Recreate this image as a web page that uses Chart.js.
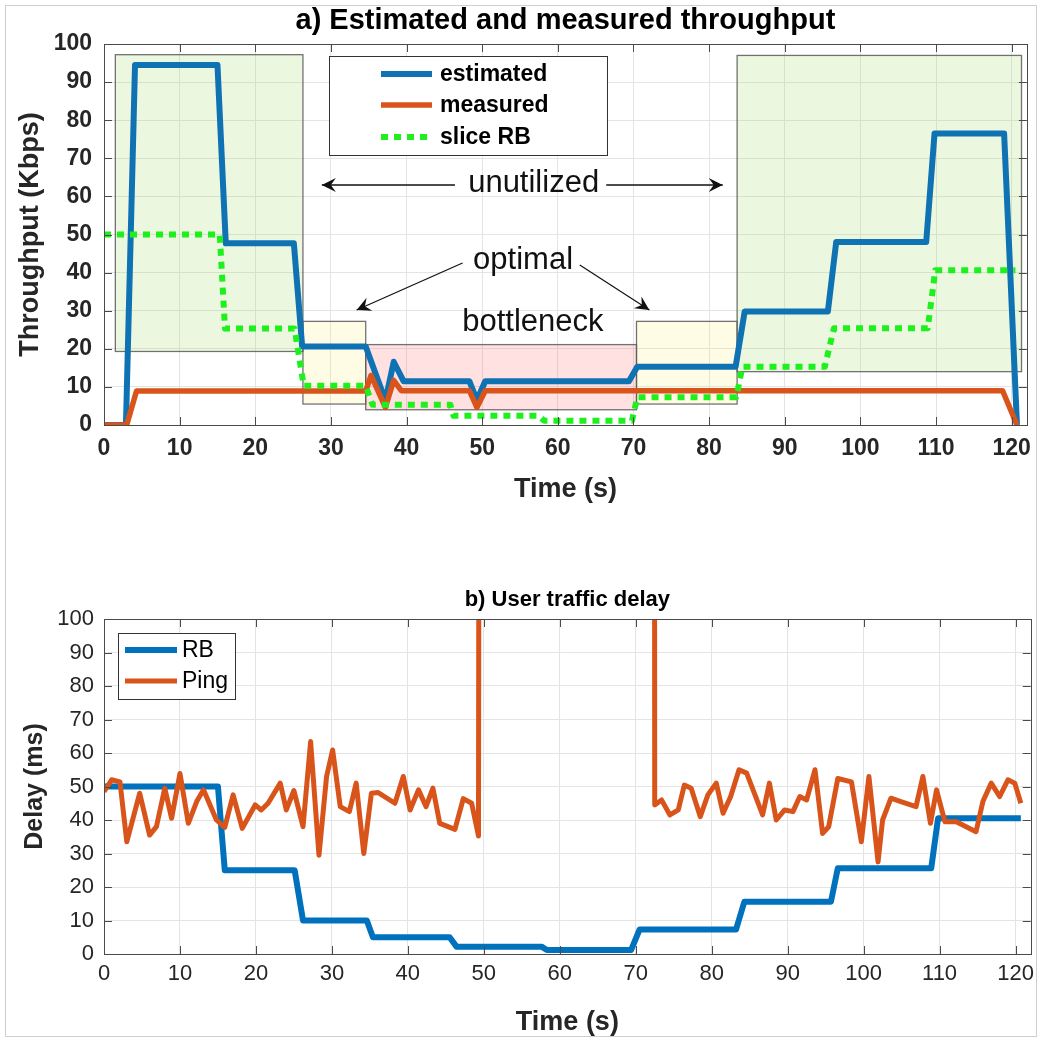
<!DOCTYPE html>
<html><head><meta charset="utf-8">
<script src="https://cdn.jsdelivr.net/npm/chart.js@4.4.1/dist/chart.umd.min.js"></script>
<style>
html,body{margin:0;padding:0;background:#fff;}
#wrap{position:relative;width:1041px;height:1041px;overflow:hidden;background:#fff;}
#frame{position:absolute;left:5px;top:5px;width:1032px;height:1032px;border:1px solid #cfcfcf;box-sizing:border-box;}
#c1{position:absolute;left:0;top:0;}
#c2{position:absolute;left:0;top:560px;}
</style></head><body>
<div id="wrap"><div id="frame"></div>
<canvas id="c1" width="1041" height="520"></canvas>
<canvas id="c2" width="1041" height="481"></canvas>
</div>
<script>
// ---------- data: a) throughput ----------
const xTicks = [0,10,20,30,40,50,60,70,80,90,100,110,120];
const yTicks = [0,10,20,30,40,50,60,70,80,90,100];
const estT  = [0,2.9,4.1,15.0,16.1,25.1,26.2,34.6,37.2,38.3,39.6,48.3,49.3,50.4,69.4,70.5,83.5,84.7,95.7,96.8,108.7,109.8,119.0,120.7];
const estV  = [0,0,94.5,94.5,47.7,47.7,20.6,20.6,6.4,16.6,11.5,11.5,6.5,11.5,11.5,15.3,15.3,29.8,29.8,48.0,48.0,76.5,76.5,0];
const measT = [0,3.0,4.3,34.6,35.3,37.2,38.3,39.3,48.3,49.3,50.4,118.8,120.7];
const measV = [0,0,8.9,8.9,13,4.6,11.7,9,9,4.6,9,9,0];
const sliceT = [0,15.3,16.0,25.2,26.4,34.6,35.5,45.8,46.2,57.5,58.2,69.8,70.5,83.6,84.4,95.3,96.5,108.9,109.9,120.5];
const sliceV = [50,50,25.3,25.3,10.3,10.3,5.3,5.3,2.4,2.4,1.1,1.1,7.3,7.3,15.3,15.3,25.4,25.4,40.6,40.6];
// shaded regions (time span and throughput span)
const regionKind = ['unutilized','optimal','bottleneck','optimal','unutilized'];
const regionT0 = [1.5, 26.3, 34.6, 70.4, 83.7];
const regionT1 = [26.3, 34.6, 70.4, 83.7, 121.3];
const regionV0 = [19.3, 5.5, 4.0, 5.5, 14.0];
const regionV1 = [97.2, 27.2, 21.1, 27.2, 97.0];
// ---------- data: b) delay ----------
const delayTicks = [0,10,20,30,40,50,60,70,80,90,100];
const rbT = [0,15.0,15.9,25.1,26.2,34.6,35.4,45.5,46.4,57.6,58.3,69.4,70.5,83.2,84.3,95.7,96.6,108.9,109.8,120.7];
const rbV = [50,50,25,25,10,10,5,5,2.2,2.2,1.2,1.2,7.3,7.3,15.6,15.6,25.6,25.6,40.5,40.5];
const pingT = [0,1.0,2.1,3.0,4.7,6.0,6.9,8.0,8.9,10.0,11.1,12.2,13.1,14.8,15.9,17.0,18.2,19.9,20.7,21.6,23.2,24.0,25.0,26.2,27.2,28.3,29.3,30.1,31.1,32.3,33.2,34.2,35.2,36.1,38.3,39.4,40.3,41.4,42.4,43.3,44.2,46.2,47.3,48.4,49.3,49.5,61,72.4,72.5,73.4,74.5,75.6,76.4,77.3,78.5,79.5,80.6,81.5,82.5,83.6,84.6,85.7,86.7,87.6,88.5,89.6,90.7,91.6,92.5,93.6,94.6,95.4,96.6,98.4,99.7,100.7,101.9,102.5,103.6,104.9,106.9,107.8,108.8,109.6,110.7,112.2,114.8,115.7,116.8,117.9,119.0,119.9,120.7];
const pingV = [48.5,52,51.4,33.5,48,35.5,38,49.5,40.5,53.9,39,45.5,49,40,37.8,47.5,37.5,44.5,43,45,51,43,48.8,38,63.4,29.5,53,60.9,44,42.5,51,30,48,48.2,45,53,43,49,44,49.5,39,37.2,46.4,45,35.2,400,null,400,44.5,46,41.5,43,50.4,49.5,41,47.5,51,42,47,55,54,47.5,41.5,51,40,43,42.5,47,46,55,36,38,52.4,51.4,33.5,53,27.5,40,46.5,45.5,44,53,39,49,39.5,39.5,36.5,45.5,51,47,52,51,45];

const pts = (t, v) => t.map((x, i) => ({x: x, y: v[i]}));
const FONT = "'Liberation Sans', Arial, Helvetica, sans-serif";
const BLUE = '#0f72b3', ORANGE = '#d9541a', GREEN = '#1ef01e', RB_BLUE = '#0072bd';

function drawArrow(ctx, x0, y0, x1, y1) {
  ctx.beginPath(); ctx.moveTo(x0, y0); ctx.lineTo(x1, y1); ctx.stroke();
  const a = Math.atan2(y1 - y0, x1 - x0), L = 14, W = 7, B = 9;
  const c = Math.cos(a), s = Math.sin(a);
  const bx = x1 - L * c, by = y1 - L * s, mx = x1 - B * c, my = y1 - B * s;
  ctx.beginPath();
  ctx.moveTo(x1, y1);
  ctx.lineTo(bx - W * s, by + W * c);
  ctx.lineTo(mx, my);
  ctx.lineTo(bx + W * s, by - W * c);
  ctx.closePath(); ctx.fill();
}

const decorPlugin = {
  id: 'decor',
  beforeDatasetsDraw(chart, args, opts) {
    if (!opts.regions) return;
    const ctx = chart.ctx, xs = chart.scales.x, ys = chart.scales.y;
    const fills = {unutilized: 'rgba(146,208,80,0.18)', optimal: 'rgba(255,240,100,0.17)', bottleneck: 'rgba(255,80,80,0.17)'};
    ctx.save();
    regionKind.forEach((k, i) => {
      const x0 = xs.getPixelForValue(regionT0[i]), x1 = xs.getPixelForValue(regionT1[i]);
      const y0 = ys.getPixelForValue(regionV1[i]), y1 = ys.getPixelForValue(regionV0[i]);
      ctx.fillStyle = fills[k];
      ctx.fillRect(x0, y0, x1 - x0, y1 - y0);
      ctx.strokeStyle = 'rgba(90,90,90,0.85)'; ctx.lineWidth = 1.3;
      ctx.strokeRect(x0, y0, x1 - x0, y1 - y0);
    });
    ctx.restore();
  },
  afterDraw(chart, args, opts) {
    const ctx = chart.ctx, a = chart.chartArea, xs = chart.scales.x, ys = chart.scales.y;
    ctx.save();
    // box + inward ticks
    ctx.strokeStyle = '#4a4a4a'; ctx.lineWidth = 1;
    ctx.strokeRect(Math.round(a.left) + 0.5, Math.round(a.top) + 0.5, Math.round(a.right - a.left), Math.round(a.bottom - a.top));
    const tl = 8;
    ctx.beginPath();
    xs.ticks.forEach(t => { const p = Math.round(xs.getPixelForValue(t.value)) + 0.5;
      ctx.moveTo(p, a.bottom); ctx.lineTo(p, a.bottom - tl); ctx.moveTo(p, a.top); ctx.lineTo(p, a.top + tl); });
    ys.ticks.forEach(t => { const p = Math.round(ys.getPixelForValue(t.value)) + 0.5;
      ctx.moveTo(a.left, p); ctx.lineTo(a.left + tl, p); ctx.moveTo(a.right, p); ctx.lineTo(a.right - tl, p); });
    ctx.stroke();
    // title
    ctx.fillStyle = '#000'; ctx.textAlign = 'center'; ctx.textBaseline = 'middle';
    ctx.font = opts.titleFont;
    ctx.fillText(opts.title, (a.left + a.right) / 2, opts.titleY);
    // annotations
    if (opts.annot) {
      const P = (t, v) => [xs.getPixelForValue(t), ys.getPixelForValue(v)];
      ctx.font = "31px " + FONT; ctx.fillStyle = '#111';
      let p = P(56.8, 63.5); ctx.fillText('unutilized', p[0], p[1]);
      p = P(55.4, 43.3); ctx.fillText('optimal', p[0], p[1]);
      p = P(56.7, 26.8); ctx.fillText('bottleneck', p[0], p[1]);
      ctx.strokeStyle = '#111'; ctx.fillStyle = '#111'; ctx.lineWidth = 1.6;
      let s = P(46.4, 63.0), e = P(28.8, 63.0); drawArrow(ctx, s[0], s[1], e[0], e[1]);
      s = P(66.4, 63.0); e = P(81.8, 63.0); drawArrow(ctx, s[0], s[1], e[0], e[1]);
      ctx.lineWidth = 1.2;
      s = P(47.4, 42.5); e = P(33.4, 30.2); drawArrow(ctx, s[0], s[1], e[0], e[1]);
      s = P(62.9, 42.0); e = P(72.1, 30.2); drawArrow(ctx, s[0], s[1], e[0], e[1]);
    }
    // legend
    const L = opts.legend;
    ctx.fillStyle = '#fff'; ctx.strokeStyle = '#333'; ctx.lineWidth = 1;
    ctx.fillRect(L.x, L.y, L.w, L.h); ctx.strokeRect(L.x + 0.5, L.y + 0.5, L.w, L.h);
    ctx.textAlign = 'left'; ctx.textBaseline = 'middle'; ctx.font = L.font;
    chart.data.datasets.forEach((d, i) => {
      const y = L.rows[i];
      ctx.strokeStyle = d.borderColor; ctx.lineWidth = d.borderWidth;
      ctx.setLineDash(d.borderDash || []);
      ctx.beginPath(); ctx.moveTo(L.lx0, y); ctx.lineTo(L.lx1, y); ctx.stroke();
      ctx.setLineDash([]);
      ctx.fillStyle = '#000'; ctx.fillText(d.label, L.tx, y + 1);
    });
    ctx.restore();
  }
};

function xScale(h, tickFont, tickPad, titlePad) {
  return {
    type: 'linear', min: 0, max: 122,
    afterFit(s) { s.height = h; },
    afterBuildTicks(s) { s.ticks = xTicks.map(v => ({value: v})); },
    grid: {color: '#e4e4e4', drawTicks: false, lineWidth: 1},
    border: {display: false},
    ticks: {padding: tickPad, font: tickFont, color: '#262626', maxRotation: 0, autoSkip: false},
    title: {display: true, text: 'Time (s)', font: {family: FONT, size: 27, weight: 'bold'}, color: '#262626', padding: {top: 0, bottom: titlePad}}
  };
}
function yScale(ticksArr, tickFont, tickPad, title, titleSize, titlePad) {
  return {
    min: 0, max: 100,
    afterFit(s) { s.width = 104; },
    afterBuildTicks(s) { s.ticks = ticksArr.map(v => ({value: v})); },
    grid: {color: '#e4e4e4', drawTicks: false, lineWidth: 1},
    border: {display: false},
    ticks: {padding: tickPad, font: tickFont, color: '#262626', autoSkip: false},
    title: {display: true, text: title, font: {family: FONT, size: titleSize, weight: 'bold'}, color: '#262626', padding: {top: titlePad, bottom: 0}}
  };
}

const common = {
  responsive: false, animation: false, devicePixelRatio: 1,
  elements: {point: {radius: 0}, line: {tension: 0, borderCapStyle: 'butt', borderJoinStyle: 'round'}},
  events: []
};

new Chart(document.getElementById('c1'), {
  type: 'line',
  data: {datasets: [
    {label: 'estimated', data: pts(estT, estV), borderColor: BLUE, borderWidth: 6, order: 3},
    {label: 'measured', data: pts(measT, measV), borderColor: ORANGE, borderWidth: 5.5, order: 2},
    {label: 'slice RB', data: pts(sliceT, sliceV), borderColor: GREEN, borderWidth: 6, borderDash: [7, 6], order: 1}
  ]},
  options: Object.assign({}, common, {
    layout: {padding: {top: 44, right: 8, left: 0, bottom: 0}},
    plugins: {
      legend: {display: false}, title: {display: false}, tooltip: {enabled: false},
      decor: {
        regions: true, annot: true,
        title: 'a) Estimated and measured throughput', titleY: 21, titleFont: "bold 29px " + FONT,
        legend: {x: 329, y: 56, w: 278, h: 99, rows: [74, 105, 137], lx0: 381, lx1: 432, tx: 440, font: "bold 23px " + FONT}
      }
    },
    scales: {
      x: xScale(95, {family: FONT, size: 23, weight: 'bold'}, 10, 14),
      y: yScale(yTicks, {family: FONT, size: 23, weight: 'bold'}, 12, 'Throughput (Kbps)', 27, 14)
    }
  }),
  plugins: [decorPlugin]
});

new Chart(document.getElementById('c2'), {
  type: 'line',
  data: {datasets: [
    {label: 'RB', data: pts(rbT, rbV), borderColor: RB_BLUE, borderWidth: 6, order: 2},
    {label: 'Ping', data: pts(pingT, pingV), borderColor: ORANGE, borderWidth: 5, order: 1, spanGaps: false}
  ]},
  options: Object.assign({}, common, {
    layout: {padding: {top: 59, right: 7, left: 0, bottom: 0}},
    plugins: {
      legend: {display: false}, title: {display: false}, tooltip: {enabled: false},
      decor: {
        regions: false, annot: false,
        title: 'b) User traffic delay', titleY: 40, titleFont: "bold 22px " + FONT,
        legend: {x: 118, y: 73, w: 117, h: 66, rows: [90, 121], lx0: 125, lx1: 177, tx: 182, font: "23px " + FONT}
      }
    },
    scales: {
      x: xScale(87, {family: FONT, size: 22}, 7, 2),
      y: yScale(delayTicks, {family: FONT, size: 22}, 10, 'Delay (ms)', 25, 20)
    }
  }),
  plugins: [decorPlugin]
});
</script>
</body></html>
